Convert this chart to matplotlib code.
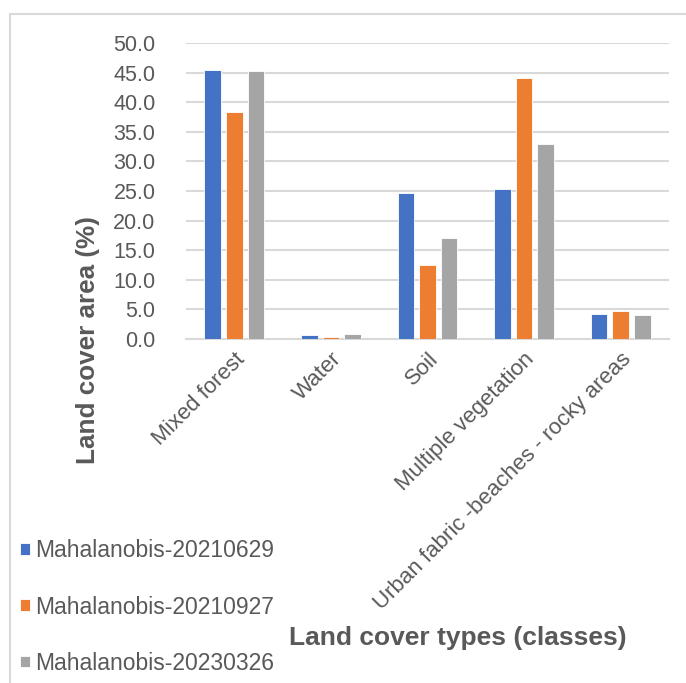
import matplotlib
matplotlib.use("Agg")
import matplotlib.pyplot as plt
import numpy as np
from matplotlib.patches import Rectangle

plt.rcParams["font.family"] = ["Liberation Sans", "DejaVu Sans"]

classes = ["Mixed forest", "Water", "Soil", "Multiple vegetation",
           "Urban fabric -beaches - rocky areas"]
series = ["Mahalanobis-20210629", "Mahalanobis-20210927", "Mahalanobis-20230326"]
jun_2021 = [45.4, 0.6, 24.6, 25.3, 4.3]
sep_2021 = [38.3, 0.4, 12.5, 44.1, 4.7]
mar_2023 = [45.2, 0.9, 17.1, 32.9, 4.1]
colors = ["#4472C4", "#ED7D31", "#A5A5A5"]
text_grey = "#595959"

W, H = 686, 683
fig = plt.figure(figsize=(W / 100, H / 100), dpi=100)
# plot area in pixel terms: x 186..669, y 43..339
ax = fig.add_axes([186 / W, 1 - 339 / H, (669 - 186) / W, (339 - 43) / H])

x = np.arange(len(classes))
step, width = 0.224, 0.171
for i, (vals, name) in enumerate(zip([jun_2021, sep_2021, mar_2023], series)):
    ax.bar(x + (i - 1) * step, vals, width, color=colors[i], label=name,
           edgecolor="white", linewidth=0.6, zorder=3)

ax.set_xlim(-0.5, len(classes) - 0.5)
ax.set_ylim(0, 50)
ax.set_yticks(np.arange(0, 50.1, 5))
ax.set_yticklabels([f"{v:.1f}" for v in np.arange(0, 50.1, 5)],
                   fontsize=15.5, color=text_grey)
ax.yaxis.grid(True, color="#D9D9D9", linewidth=1.5, zorder=0)
ax.tick_params(axis="y", length=0, pad=22)
ax.tick_params(axis="x", length=0, pad=7)
for side in ["top", "right", "left"]:
    ax.spines[side].set_visible(False)
ax.spines["bottom"].set_color("#D9D9D9")
ax.spines["bottom"].set_linewidth(1.5)

ax.set_xticks(x)
ax.set_xticklabels(classes, rotation=45, ha="right", rotation_mode="anchor",
                   fontsize=16, color=text_grey)

fig.text(88 / W, 1 - 340 / H, "Land cover area (%)", rotation=90,
         ha="center", va="center", fontsize=18.8, fontweight="bold", color=text_grey)
fig.text(458 / W, 1 - 638 / H, "Land cover types (classes)",
         ha="center", va="center", fontsize=19, fontweight="bold", color=text_grey)

handles, labels = ax.get_legend_handles_labels()
leg = fig.legend(handles, labels, loc="center left",
                 bbox_to_anchor=(20 / W, 1 - 607 / H), frameon=False,
                 borderpad=0, borderaxespad=0,
                 fontsize=16.5, labelspacing=1.45, handlelength=0.42,
                 handleheight=0.42, handletextpad=0.25, labelcolor=text_grey)

# chart frame
fig.patches.append(Rectangle((10 / W, -0.1), 1.1, 1 - 14 / H + 0.1,
                             transform=fig.transFigure, fill=False,
                             edgecolor="#D9D9D9", linewidth=1.5))

fig.savefig("out.png", dpi=100, facecolor="white")
